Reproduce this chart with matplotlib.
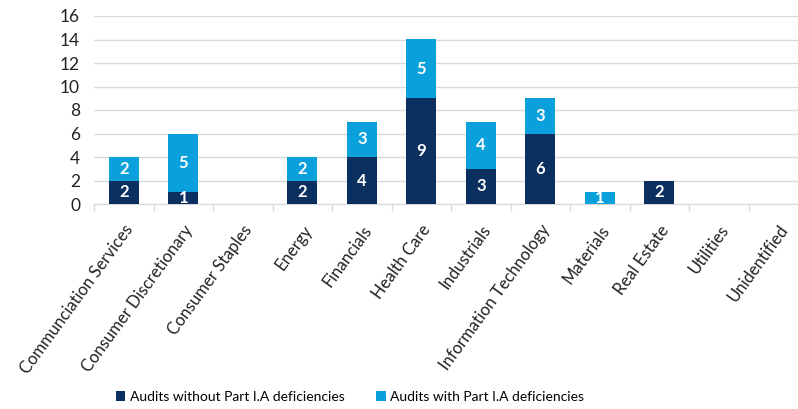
import matplotlib
matplotlib.use("Agg")
import matplotlib.pyplot as plt
import numpy as np

categories = ["Communciation Services", "Consumer Discretionary", "Consumer Staples",
              "Energy", "Financials", "Health Care", "Industrials",
              "Information Technology", "Materials", "Real Estate", "Utilities",
              "Unidentified"]
without_def = [2, 1, 0, 2, 4, 9, 3, 6, 0, 2, 0, 0]
with_def = [2, 5, 0, 2, 3, 5, 4, 3, 1, 0, 0, 0]
series_names = ["Audits without Part I.A deficiencies", "Audits with Part I.A deficiencies"]
yticks = [0, 2, 4, 6, 8, 10, 12, 14, 16]

dark = "#0b2f5e"
light = "#0aa0dc"

plt.rcParams['font.family'] = ['Lato', 'DejaVu Sans']

fig = plt.figure(figsize=(7.98, 4.09), dpi=100)
W, H = 798, 409
x0, x1 = 94, 808
y0, y1 = 204, 16
ax = fig.add_axes([x0 / W, 1 - y0 / H, (x1 - x0) / W, (y0 - y1) / H])

x = np.arange(len(categories))
b1 = ax.bar(x, without_def, width=0.5, color=dark, zorder=3, label=series_names[0])
b2 = ax.bar(x, with_def, width=0.5, bottom=without_def, color=light, zorder=3, label=series_names[1])

for i in range(len(categories)):
    if without_def[i] > 0:
        ax.text(x[i], without_def[i] / 2, str(without_def[i]), ha='center', va='center',
                color='white', fontsize=12, fontweight='bold', zorder=4)
    if with_def[i] > 0:
        ax.text(x[i], without_def[i] + with_def[i] / 2, str(with_def[i]), ha='center', va='center',
                color='white', fontsize=12, fontweight='bold', zorder=4)

ax.set_xlim(-0.5, len(categories) - 0.5)
ax.set_ylim(0, 16)
ax.set_yticks(yticks)
ax.set_yticklabels([str(v) for v in yticks], fontsize=12.5, color='#222222')
ax.yaxis.grid(True, color='#d9d9d9', linewidth=1, zorder=0)
ax.tick_params(axis='y', length=0, pad=10)

ax.set_xticks(x)
ax.set_xticklabels(categories, rotation=54, ha='right', rotation_mode='anchor',
                   fontsize=12, color='#222222')
ax.tick_params(axis='x', which='major', length=0, pad=13)
ax.set_xticks(np.arange(-0.5, len(categories), 1), minor=True)
ax.tick_params(axis='x', which='minor', length=5, color='#d9d9d9', width=1)

for s in ['top', 'right', 'left']:
    ax.spines[s].set_visible(False)
ax.spines['bottom'].set_color('#d9d9d9')

fig.legend(handles=[b1, b2], labels=series_names, loc='center', ncol=2,
           bbox_to_anchor=(350 / W, 1 - 397 / H), frameon=False, fontsize=10,
           handlelength=0.7, handleheight=0.7, handletextpad=0.3, columnspacing=2.3)

fig.savefig("out.png", dpi=100)
